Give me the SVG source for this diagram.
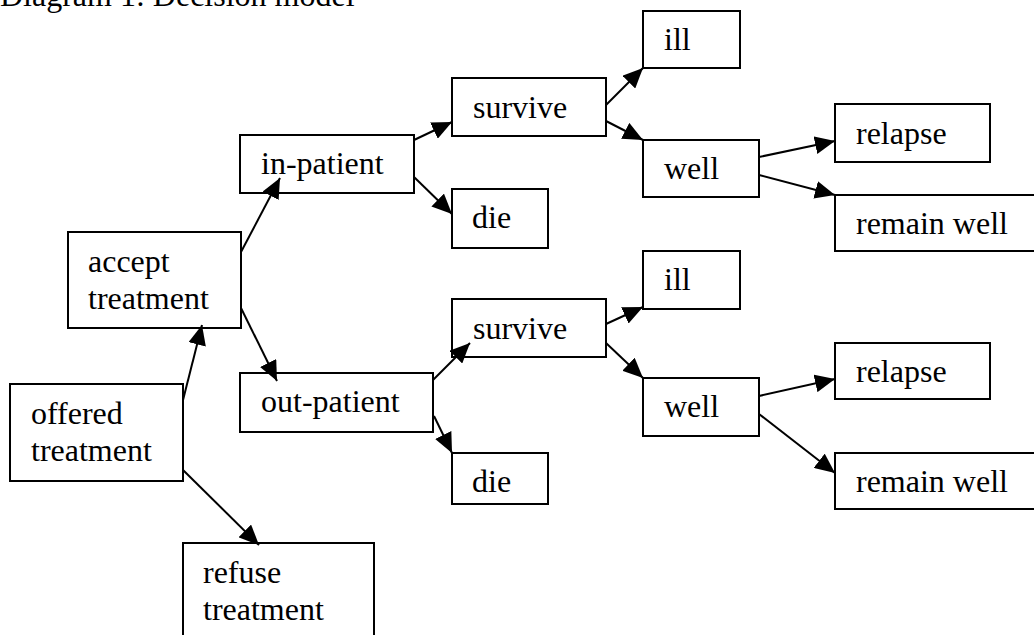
<svg xmlns="http://www.w3.org/2000/svg" width="1034" height="635" viewBox="0 0 1034 635">
<style>
.box{fill:#fff;stroke:#000;stroke-width:2}
.t{font-family:"Liberation Serif","Times New Roman",serif;font-size:32px;fill:#000}
.c{stroke:#000;stroke-width:2;fill:none;marker-end:url(#ah)}
</style>
<defs>
<marker id="ah" markerUnits="userSpaceOnUse" markerWidth="20" markerHeight="18" refX="20" refY="9" orient="auto" viewBox="0 0 20 18">
<path d="M0,0 L20,9 L0,18 z" fill="#000"/>
</marker>
</defs>
<rect width="1034" height="635" fill="#fff"/>
<text class="t" x="0" y="6">Diagram 1: Decision model</text>
<g id="offered"><rect class="box" x="10" y="384" width="173" height="97"/><text class="t" x="31" y="424">offered</text><text class="t" x="31" y="461">treatment</text></g>
<g id="accept"><rect class="box" x="68" y="232" width="173" height="96"/><text class="t" x="88" y="272">accept</text><text class="t" x="88" y="308.5">treatment</text></g>
<g id="refuse"><rect class="box" x="183" y="543" width="191" height="100"/><text class="t" x="203" y="583">refuse</text><text class="t" x="203" y="620">treatment</text></g>
<g id="inpatient"><rect class="box" x="240" y="135" width="174" height="58"/><text class="t" x="261" y="173.5">in-patient</text></g>
<g id="outpatient"><rect class="box" x="240" y="373" width="193" height="59"/><text class="t" x="261" y="412">out-patient</text></g>
<g id="survive1"><rect class="box" x="452" y="78" width="154" height="58"/><text class="t" x="473" y="118">survive</text></g>
<g id="die1"><rect class="box" x="452" y="189" width="96" height="59"/><text class="t" x="472" y="228">die</text></g>
<g id="survive2"><rect class="box" x="452" y="299" width="154" height="58"/><text class="t" x="473" y="339">survive</text></g>
<g id="die2"><rect class="box" x="452" y="453" width="96" height="51"/><text class="t" x="472" y="492">die</text></g>
<g id="ill1"><rect class="box" x="643" y="11" width="97" height="57"/><text class="t" x="664" y="50">ill</text></g>
<g id="well1"><rect class="box" x="643" y="140" width="116" height="57"/><text class="t" x="664" y="178.5">well</text></g>
<g id="ill2"><rect class="box" x="643" y="251" width="97" height="58"/><text class="t" x="664" y="290">ill</text></g>
<g id="well2"><rect class="box" x="643" y="378" width="116" height="58"/><text class="t" x="664" y="417">well</text></g>
<g id="relapse1"><rect class="box" x="835" y="104" width="155" height="58"/><text class="t" x="856" y="143.5">relapse</text></g>
<g id="remain1"><rect class="box" x="835" y="195" width="201" height="56"/><text class="t" x="856" y="233.5">remain well</text></g>
<g id="relapse2"><rect class="box" x="835" y="343" width="155" height="56"/><text class="t" x="856" y="382">relapse</text></g>
<g id="remain2"><rect class="box" x="835" y="453" width="201" height="56"/><text class="t" x="856" y="492">remain well</text></g>
<g id="connectors">
<line class="c" x1="183" y1="400" x2="202" y2="325"/>
<line class="c" x1="241" y1="252" x2="280" y2="178"/>
<line class="c" x1="241" y1="308" x2="277" y2="381"/>
<line class="c" x1="183" y1="470" x2="259" y2="545"/>
<line class="c" x1="414" y1="140" x2="452" y2="122"/>
<line class="c" x1="414" y1="177" x2="452" y2="214"/>
<line class="c" x1="433" y1="380" x2="470" y2="343"/>
<line class="c" x1="434" y1="416" x2="452" y2="453"/>
<line class="c" x1="606" y1="105" x2="643" y2="68"/>
<line class="c" x1="606" y1="121" x2="643" y2="140"/>
<line class="c" x1="759" y1="157" x2="835" y2="141"/>
<line class="c" x1="759" y1="175" x2="835" y2="195"/>
<line class="c" x1="606" y1="324" x2="643" y2="307"/>
<line class="c" x1="606" y1="343" x2="643" y2="378"/>
<line class="c" x1="759" y1="396" x2="835" y2="379"/>
<line class="c" x1="759" y1="414" x2="835" y2="473"/>
</g>
</svg>
